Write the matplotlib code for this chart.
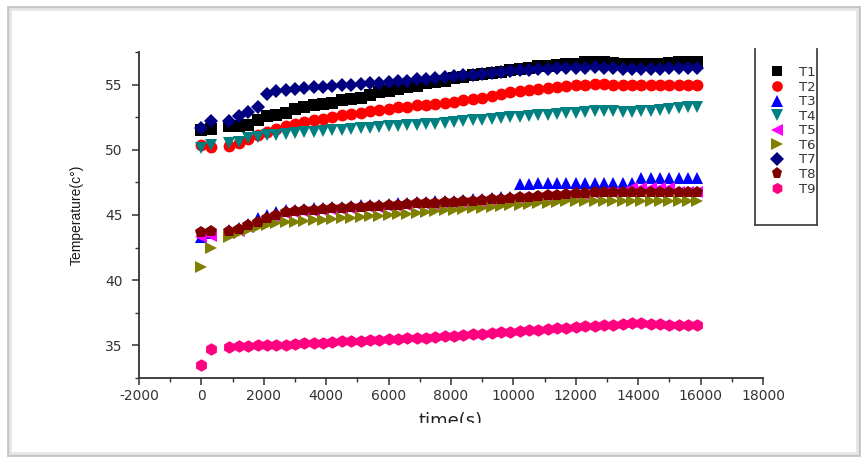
import matplotlib
matplotlib.use("Agg")
import matplotlib.pyplot as plt
from matplotlib.patches import Rectangle
from matplotlib.lines import Line2D
from matplotlib.ticker import MultipleLocator

plt.rcParams["axes.unicode_minus"] = False

# ---- data ----
time_s = [0, 300, 900, 1200, 1500, 1800, 2100, 2400, 2700, 3000, 3300, 3600, 3900,
          4200, 4500, 4800, 5100, 5400, 5700, 6000, 6300, 6600, 6900, 7200, 7500,
          7800, 8100, 8400, 8700, 9000, 9300, 9600, 9900, 10200, 10500, 10800, 11100,
          11400, 11700, 12000, 12300, 12600, 12900, 13200, 13500, 13800, 14100, 14400,
          14700, 15000, 15300, 15600, 15900]

T1 = [51.5, 51.6, 51.8, 51.8, 51.9, 52.3, 52.6, 52.7, 52.8, 53.1, 53.3, 53.4, 53.5,
      53.6, 53.8, 53.9, 54.0, 54.2, 54.4, 54.5, 54.7, 54.8, 54.9, 55.1, 55.2,
      55.3, 55.5, 55.6, 55.7, 55.8, 55.9, 56.0, 56.1, 56.2, 56.3, 56.4, 56.45,
      56.5, 56.55, 56.6, 56.7, 56.75, 56.7, 56.65, 56.6, 56.55, 56.55, 56.6,
      56.6, 56.65, 56.7, 56.7, 56.7]
T2 = [50.4, 50.2, 50.3, 50.5, 50.8, 51.1, 51.4, 51.6, 51.8, 52.0, 52.15, 52.3, 52.4,
      52.55, 52.65, 52.75, 52.85, 52.95, 53.05, 53.15, 53.25, 53.3, 53.4, 53.45, 53.55,
      53.6, 53.7, 53.8, 53.9, 54.0, 54.1, 54.25, 54.4, 54.5, 54.6, 54.7, 54.75,
      54.8, 54.9, 54.95, 55.0, 55.05, 55.05, 55.0, 55.0, 54.95, 54.95, 54.95,
      54.95, 54.95, 54.95, 54.95, 54.95]
T3 = [43.3, 43.6, 43.85, 44.0, 44.3, 44.75, 45.0, 45.2, 45.35, 45.4, 45.45, 45.5, 45.55,
      45.6, 45.65, 45.7, 45.75, 45.8, 45.8, 45.85, 45.9, 45.95, 46.0, 46.0, 46.05,
      46.1, 46.1, 46.15, 46.2, 46.25, 46.3, 46.35, 46.4, 47.4, 47.4, 47.42, 47.42,
      47.43, 47.43, 47.45, 47.45, 47.45, 47.46, 47.46, 47.47, 47.47, 47.85, 47.85,
      47.85, 47.85, 47.85, 47.85, 47.85]
T4 = [50.1, 50.4, 50.5, 50.6, 50.9, 51.0, 51.1, 51.15, 51.2, 51.3, 51.35, 51.4, 51.45,
      51.5, 51.55, 51.6, 51.65, 51.7, 51.75, 51.8, 51.85, 51.9, 51.9, 51.95, 52.0,
      52.05, 52.1, 52.2, 52.25, 52.3, 52.35, 52.45, 52.5, 52.55, 52.6, 52.65, 52.7,
      52.75, 52.8, 52.85, 52.9, 52.95, 52.95, 52.95, 52.9, 52.9, 52.95, 53.0,
      53.05, 53.1, 53.2, 53.25, 53.3]
T5 = [43.3, 43.4, 43.65, 43.75, 44.05, 44.35, 44.65, 44.85, 45.05, 45.15, 45.2, 45.25, 45.3,
      45.35, 45.4, 45.45, 45.5, 45.55, 45.55, 45.6, 45.65, 45.7, 45.75, 45.75, 45.8,
      45.85, 45.85, 45.9, 45.95, 46.0, 46.05, 46.1, 46.15, 46.2, 46.25, 46.3, 46.35,
      46.4, 46.45, 46.5, 46.55, 46.6, 46.65, 46.7, 46.75, 47.05, 47.05, 47.05,
      47.05, 47.05, 46.75, 46.75, 46.75]
T6 = [41.0, 42.5, 43.35, 43.6, 43.85, 44.05, 44.25, 44.35, 44.45, 44.5, 44.55, 44.6, 44.65,
      44.7, 44.75, 44.8, 44.85, 44.9, 44.95, 45.0, 45.05, 45.1, 45.15, 45.25, 45.3,
      45.35, 45.4, 45.45, 45.5, 45.55, 45.65, 45.7, 45.75, 45.8, 45.85, 45.9, 45.95,
      46.0, 46.05, 46.05, 46.1, 46.1, 46.1, 46.1, 46.1, 46.1, 46.1, 46.1,
      46.1, 46.1, 46.1, 46.1, 46.1]
T7 = [51.7, 52.2, 52.2, 52.6, 52.9, 53.3, 54.3, 54.5, 54.6, 54.7, 54.75, 54.8, 54.85,
      54.9, 54.95, 55.0, 55.05, 55.1, 55.15, 55.2, 55.25, 55.3, 55.4, 55.45, 55.5,
      55.6, 55.65, 55.7, 55.75, 55.85, 55.9, 56.0, 56.05, 56.1, 56.15, 56.2, 56.2,
      56.25, 56.25, 56.3, 56.3, 56.35, 56.3, 56.25, 56.2, 56.2, 56.2, 56.2,
      56.2, 56.25, 56.3, 56.3, 56.3]
T8 = [43.7, 43.75, 43.8, 43.9, 44.2, 44.5, 44.8, 45.0, 45.2, 45.3, 45.35, 45.4, 45.45,
      45.5, 45.55, 45.6, 45.65, 45.7, 45.7, 45.75, 45.8, 45.85, 45.9, 45.9, 45.95,
      46.0, 46.0, 46.05, 46.1, 46.15, 46.2, 46.25, 46.3, 46.35, 46.4, 46.45, 46.5,
      46.55, 46.6, 46.65, 46.7, 46.75, 46.8, 46.8, 46.8, 46.8, 46.8, 46.8,
      46.8, 46.8, 46.8, 46.8, 46.8]
T9 = [33.5, 34.7, 34.9, 34.95, 34.95, 35.0, 35.0, 35.0, 35.05, 35.1, 35.15, 35.2, 35.2,
      35.25, 35.3, 35.35, 35.35, 35.4, 35.45, 35.5, 35.5, 35.55, 35.6, 35.6, 35.65,
      35.7, 35.75, 35.8, 35.85, 35.9, 35.95, 36.0, 36.05, 36.1, 36.15, 36.2, 36.25,
      36.3, 36.35, 36.4, 36.45, 36.5, 36.55, 36.6, 36.65, 36.7, 36.7, 36.65,
      36.65, 36.6, 36.6, 36.55, 36.55]

series_names = ["T1", "T2", "T3", "T4", "T5", "T6", "T7", "T8", "T9"]
series_values = [T1, T2, T3, T4, T5, T6, T7, T8, T9]
colors = ["#000000", "#ff0000", "#0000ff", "#008080", "#ff00ff", "#808000",
          "#000080", "#800000", "#ff0080"]
markers = ["s", "o", "^", "v", "<", ">", "D", "p", "h"]
msizes = [8, 8.5, 9, 9, 9, 9, 7.5, 9, 9]

W, H = 865, 462
fig = plt.figure(figsize=(W / 100, H / 100), dpi=100)
fig.patch.set_facecolor("white")

ax = fig.add_axes([139 / W, 1 - 378 / H, (763 - 139) / W, (378 - 52) / H])

handles = []
for name, vals, c, m, s in zip(series_names, series_values, colors, markers, msizes):
    h, = ax.plot(time_s, vals, linestyle="none", marker=m, color=c, markersize=s,
                 markeredgewidth=0, label=name, clip_on=False)
    handles.append(h)

ax.set_xlim(-2000, 18000)
ax.set_ylim(32.5, 57.5)
ax.xaxis.set_major_locator(MultipleLocator(2000))
ax.xaxis.set_minor_locator(MultipleLocator(1000))
ax.yaxis.set_major_locator(MultipleLocator(5))
ax.yaxis.set_minor_locator(MultipleLocator(2.5))

for sp in ["top", "right"]:
    ax.spines[sp].set_visible(False)
for sp in ["left", "bottom"]:
    ax.spines[sp].set_color("#333333")
    ax.spines[sp].set_linewidth(1.3)

ax.tick_params(which="major", direction="out", length=5, width=1.1, color="#333333",
               labelsize=10, labelcolor="#333333")
ax.tick_params(which="minor", direction="out", length=3, width=1.0, color="#333333")
ax.tick_params(axis="y", which="major", pad=7)
ax.tick_params(axis="x", which="major", pad=3)
for lab in ax.get_xticklabels() + ax.get_yticklabels():
    lab.set_family("DejaVu Sans")

# axis titles
fig.text(77 / W, 1 - 215 / H, "Temperature(c°)", rotation=90, ha="center", va="center",
         fontsize=10, family="Liberation Sans", color="#1a1a1a")
fig.text(451 / W, 1 - 412 / H, "time(s)", ha="center", va="top",
         fontsize=13, family="DejaVu Sans", color="#222222")
# the x title is cut off in the reference
fig.patches.append(Rectangle((12 / W, 1 - 455 / H), (855 - 12) / W, (455 - 423) / H,
                             transform=fig.transFigure, facecolor="white",
                             edgecolor="none", zorder=10))

# legend box (open at the top, as in the reference)
lx0, lx1, ly0, ly1 = 755 / W, 817 / W, 1 - 49 / H, 1 - 225 / H
for xs, ys in [([lx0, lx0], [ly0, ly1]), ([lx1, lx1], [ly0, ly1]), ([lx0, lx1], [ly1, ly1])]:
    fig.add_artist(Line2D(xs, ys, transform=fig.transFigure, color="#444444", lw=1.3))
leg = ax.legend(handles=handles, loc="upper left",
                bbox_to_anchor=(770 / W, 1 - 66 / H), bbox_transform=fig.transFigure,
                frameon=False, prop={"family": "DejaVu Sans", "size": 9.5},
                handlelength=1.0, handletextpad=1.2, labelspacing=0.12,
                borderaxespad=0, borderpad=0, markerscale=0.9)
for t in leg.get_texts():
    t.set_color("#333333")

# outer screenshot frame
fig.patches.append(Rectangle((8 / W, 1 - 455 / H), (859 - 8) / W, (455 - 7) / H,
                             transform=fig.transFigure, facecolor="none",
                             edgecolor="#c4c4c4", lw=2.0, zorder=11))
fig.patches.append(Rectangle((10 / W, 1 - 453 / H), (857 - 10) / W, (453 - 9) / H,
                             transform=fig.transFigure, facecolor="none",
                             edgecolor="#e6e6e6", lw=2.0, zorder=11))

fig.savefig("out.png", dpi=100, facecolor="white")
